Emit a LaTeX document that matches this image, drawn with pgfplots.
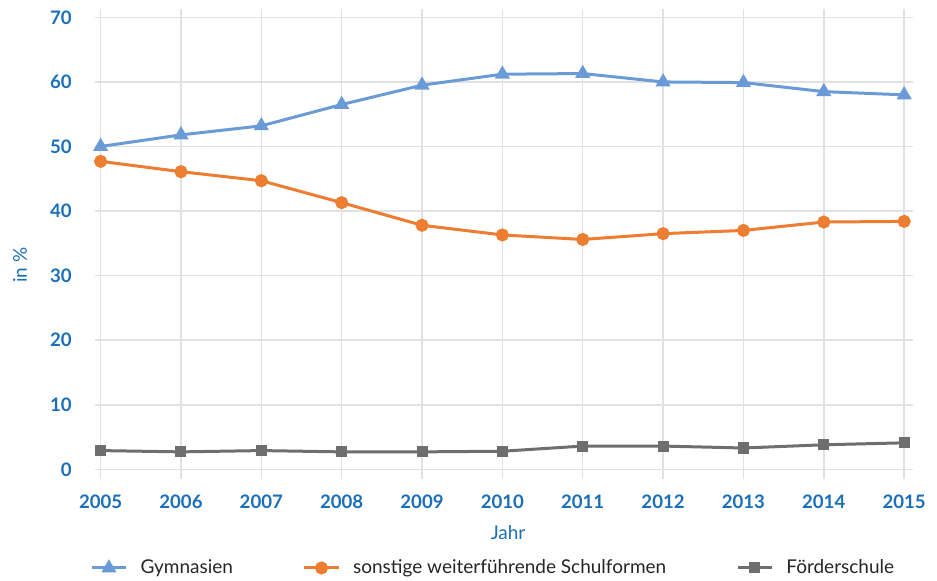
\documentclass[border=0pt]{standalone}
\usepackage{fontspec}
\setmainfont{Lato}
\usepackage{pgfplots}
\pgfplotsset{compat=1.18}
\definecolor{cblue}{RGB}{106,155,215}
\definecolor{corange}{RGB}{237,125,49}
\definecolor{cgray}{RGB}{110,110,110}
\definecolor{ctick}{RGB}{27,110,184}
\definecolor{cgrid}{RGB}{225,225,225}
\begin{document}
\begin{tikzpicture}
\useasboundingbox (-47.5pt,-51pt) rectangle (421pt,239.5pt);
\begin{axis}[
  at={(0,0)}, anchor=south west,
  scale only axis, width=409pt, height=235pt,
  xmin=2004.93, xmax=2015.11, ymin=-1.5, ymax=71.3,
  xtick={2005,...,2015}, ytick={0,10,...,70},
  xticklabel style={/pgf/number format/1000 sep={}},
  /pgf/number format/assume math mode=true,
  grid=major, major grid style={cgrid, line width=0.8pt},
  axis line style={draw=none}, tick style={draw=none},
  ticklabel style={font=\fontsize{9.3}{10}\selectfont\bfseries, text=ctick},
  yticklabel style={anchor=east, inner sep=0pt, xshift=-11.5pt},
  xticklabel style={anchor=north, inner sep=0pt, yshift=-8pt},
  xlabel={Jahr}, ylabel={in \%},
  label style={font=\fontsize{9.5}{10}\selectfont, text=ctick},
  xlabel style={at={(axis description cs:0.505,-0.115)}, anchor=center},
  ylabel style={at={(axis description cs:-0.0917,0.455)}, anchor=center, rotate=0},
  legend columns=3,
  legend style={at={(axis description cs:0,0)}, anchor=west, xshift=-2.5pt, yshift=-44.5pt,
    draw=none, fill=none, font=\fontsize{9.5}{10}\selectfont, inner sep=0pt, text=black!85,
    /tikz/every odd column/.append style={column sep=4.5pt},
    /tikz/every even column/.append style={column sep=33pt}},
  legend cell align=left,
]
\addplot[cblue, line width=1.5pt, mark=triangle*, mark size=2.9pt] coordinates {
(2005,50.0)(2006,51.8)(2007,53.2)(2008,56.5)(2009,59.5)(2010,61.2)(2011,61.3)(2012,60.0)(2013,59.9)(2014,58.5)(2015,58.0)};
\addlegendentry{Gymnasien}
\addplot[corange, line width=1.5pt, mark=*, mark size=2.5pt] coordinates {
(2005,47.7)(2006,46.1)(2007,44.7)(2008,41.3)(2009,37.8)(2010,36.3)(2011,35.6)(2012,36.5)(2013,37.0)(2014,38.3)(2015,38.4)};
\addlegendentry{sonstige weiterführende Schulformen}
\addplot[cgray, line width=1.5pt, mark=square*, mark size=2pt] coordinates {
(2005,2.9)(2006,2.7)(2007,2.9)(2008,2.7)(2009,2.7)(2010,2.8)(2011,3.6)(2012,3.6)(2013,3.3)(2014,3.8)(2015,4.1)};
\addlegendentry{Förderschule}
\end{axis}
\end{tikzpicture}
\end{document}
